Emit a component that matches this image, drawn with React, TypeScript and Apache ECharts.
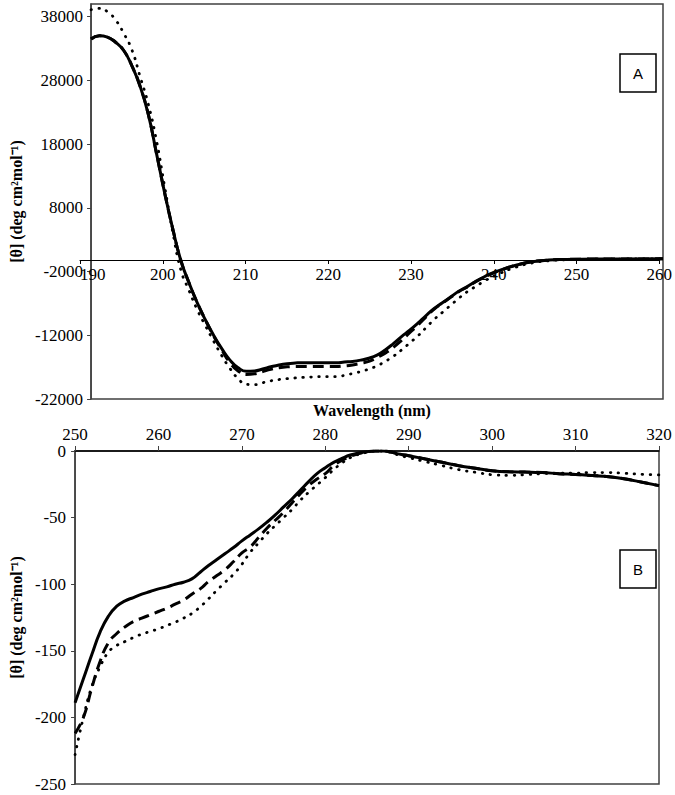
import React, { useEffect, useRef } from "react";
import * as echarts from "echarts";

// ---------- Panel A (far-UV CD) ----------
const wlA = [190, 191, 192, 193, 194, 195, 196, 197, 198, 199, 200, 201, 202, 203, 204, 205, 206, 207, 208, 209, 210, 211, 212, 213, 214, 215, 216, 217, 218, 219, 220, 221, 222, 223, 224, 225, 226, 227, 228, 229, 230, 231, 232, 233, 234, 235, 236, 237, 238, 239, 240, 242, 244, 246, 248, 250, 255, 260];
const solidA = [34500, 35000, 34800, 34000, 32700, 30300, 27100, 22700, 16600, 10400, 4700, -300, -3800, -6900, -9600, -12000, -14100, -15900, -17100, -17650, -17600, -17300, -16950, -16650, -16450, -16350, -16300, -16300, -16300, -16300, -16300, -16200, -16100, -15900, -15600, -15100, -14300, -13300, -12200, -11200, -10100, -8900, -7800, -6900, -6000, -5100, -4400, -3600, -2900, -2300, -1800, -1000, -450, -200, -100, -50, -20, 0];
const dashedA = [34500, 35000, 34800, 34000, 32700, 30300, 27100, 22700, 16600, 10400, 4700, -300, -3800, -6900, -9600, -12100, -14300, -16300, -17600, -18150, -18050, -17700, -17350, -17100, -16950, -16900, -16900, -16900, -16900, -16900, -16900, -16800, -16650, -16400, -16100, -15500, -14800, -13900, -12800, -11600, -10400, -9100, -7900, -6950, -6050, -5150, -4450, -3650, -2950, -2350, -1850, -1000, -450, -200, -100, -50, -20, 0];
const dottedA = [39100, 39300, 38800, 37500, 35400, 32800, 28600, 24300, 18600, 11400, 4200, -1800, -5000, -8000, -10500, -12900, -15200, -17200, -18800, -19700, -19750, -19450, -19150, -18950, -18800, -18700, -18600, -18550, -18500, -18500, -18500, -18300, -18000, -17700, -17300, -16800, -16100, -15300, -14300, -13200, -12100, -10800, -9500, -8400, -7300, -6200, -5200, -4400, -3600, -2900, -2300, -1300, -650, -300, -150, -80, -30, 0];

// ---------- Panel B (near-UV CD) ----------
const wlB = [250, 251, 252, 253, 254, 255, 256, 257, 258, 259, 260, 261, 262, 263, 264, 265, 266, 267, 268, 269, 270, 271, 272, 273, 274, 275, 276, 277, 278, 279, 280, 281, 282, 283, 284, 285, 286, 287, 288, 289, 290, 292, 294, 296, 298, 300, 302, 304, 306, 308, 310, 312, 314, 316, 318, 320];
const solidB = [-189, -171, -153, -136, -124, -116.5, -112.5, -110, -107.5, -105.5, -103.5, -102, -100, -98.5, -96, -91, -86, -81.5, -77, -72.5, -67.5, -63, -58.5, -53.5, -48, -42, -36, -29.5, -23, -17, -12.5, -8.5, -5.5, -3, -1.5, -0.5, 0, 0, -1, -2.5, -3.5, -6, -8.5, -11, -13, -14.8, -15.6, -15.8, -16.2, -17, -17.6, -18.4, -19.3, -21, -23.5, -26];
const dashedB = [-212, -200, -178, -158, -144, -137, -132, -128, -125.5, -123, -120.5, -118, -115, -112, -107.5, -103.5, -98, -93.5, -89, -83, -76.5, -72, -65, -58, -52, -46, -39, -32, -26, -21, -17, -11, -7, -4, -2, -0.5, 0, 0, -1, -2.5, -3.5, -6, -8.5, -11, -13, -14.8, -15.6, -15.8, -16.2, -17, -17.6, -18.4, -19.3, -21, -23.5, -26];
const dottedB = [-228, -200, -177, -162, -151, -146, -143, -140, -137.5, -135.5, -133.5, -131, -128.5, -125.5, -122, -117, -111, -104.5, -98.5, -92.5, -85, -76, -69, -62, -56, -50, -44, -37, -31, -25.5, -20, -14, -9, -5, -2.5, -1, 0, 0, -1.5, -3.5, -5, -8, -11, -14, -16, -17.8, -18.3, -17.8, -17, -16.7, -16.6, -16.2, -16.2, -16.8, -17.5, -18];

const serif = "Liberation Serif";
const yTitle = "[θ] (deg cm²mol⁻¹)";

function pairs(xs: number[], ys: number[]) {
  return xs.map((x, i) => [x, ys[i]]);
}

export default function App() {
  const ref = useRef<HTMLDivElement>(null);
  useEffect(() => {
    document.body.style.margin = "0";
    if (!ref.current) return;
    const chart = echarts.init(ref.current, null, { renderer: "svg" });
    const plain = (v: number) => String(v);
    const axisLabel = { color: "#000", fontFamily: serif, fontSize: 17, formatter: plain };
    const nameStyle = { color: "#000", fontFamily: serif, fontSize: 16, fontWeight: "bold" as const };
    const solidStyle = { color: "#000", width: 3, type: "solid" as const };
    const dashedStyle = { color: "#000", width: 3, type: [11, 6] as any };
    const dottedStyle = { color: "#000", width: 2.8, type: [0.5, 7.5] as any, cap: "round" as const };
    const mk = (name: string, xi: number, data: any, ls: any) => ({
      type: "line",
      name,
      xAxisIndex: xi,
      yAxisIndex: xi,
      data,
      showSymbol: false,
      smooth: 0.5,
      lineStyle: ls,
      z: 3,
    });
    chart.setOption({
      animation: false,
      backgroundColor: "#fff",
      grid: [
        { left: 80, right: 12, top: 4, height: 395, show: true, borderColor: "#404040", borderWidth: 1.5, backgroundColor: "transparent" },
        { left: 74, right: 16, top: 451, height: 333, show: true, borderColor: "#404040", borderWidth: 1.5, backgroundColor: "transparent" },
        // helper grid whose bottom edge is the zero line of panel A (carries A's wavelength axis)
        { left: 80, right: 12, top: 4, height: 256, show: false },
      ],
      xAxis: [
        {
          type: "value", gridIndex: 0, min: 190, max: 260, interval: 10,
          axisLine: { show: false }, axisTick: { show: false }, axisLabel: { show: false },
          splitLine: { show: false },
        },
        {
          type: "value", gridIndex: 1, min: 250, max: 320, interval: 10, position: "top",
          axisLine: { onZero: false, lineStyle: { color: "#000", width: 1.5 } },
          axisTick: { show: true, length: 5, lineStyle: { color: "#404040" } },
          axisLabel: { ...axisLabel, margin: 8 },
          splitLine: { show: false },
        },
        {
          type: "value", gridIndex: 2, min: 190, max: 260, interval: 10, position: "bottom",
          axisLine: { onZero: false, lineStyle: { color: "#000", width: 1 } },
          axisTick: { show: true, length: 4, lineStyle: { color: "#000" } },
          axisLabel: { ...axisLabel, margin: 6, alignMinLabel: "left" },
          splitLine: { show: false },
        },
      ],
      yAxis: [
        {
          type: "value", gridIndex: 0, min: -22000, max: 40000, interval: 10000,
          name: yTitle, nameLocation: "middle", nameGap: 55, nameTextStyle: nameStyle,
          axisLine: { show: true, lineStyle: { color: "#404040", width: 1.5 } },
          axisTick: { show: true, length: 4, lineStyle: { color: "#404040" } },
          axisLabel: { ...axisLabel, margin: 8, showMaxLabel: false },
          splitLine: { show: false },
        },
        {
          type: "value", gridIndex: 1, min: -250, max: 0, interval: 50,
          name: yTitle, nameLocation: "middle", nameGap: 34, nameTextStyle: nameStyle,
          axisLine: { show: true, lineStyle: { color: "#404040", width: 1.5 } },
          axisTick: { show: true, length: 4, lineStyle: { color: "#404040" } },
          axisLabel: { ...axisLabel, margin: 9 },
          splitLine: { show: false },
        },
        {
          type: "value", gridIndex: 2, min: 0, max: 1, show: false,
        },
      ],
      series: [
        mk("A dotted", 0, pairs(wlA, dottedA), dottedStyle),
        mk("A dashed", 0, pairs(wlA, dashedA), dashedStyle),
        mk("A solid", 0, pairs(wlA, solidA), solidStyle),
        mk("B dotted", 1, pairs(wlB, dottedB), dottedStyle),
        mk("B dashed", 1, pairs(wlB, dashedB), dashedStyle),
        mk("B solid", 1, pairs(wlB, solidB), solidStyle),
      ],
      graphic: [
        {
          type: "text", x: 372, y: 410,
          style: { text: "Wavelength (nm)", fill: "#000", font: `bold 16px "${serif}"`, align: "center", verticalAlign: "middle" },
        },
        { type: "rect", shape: { x: 620, y: 54, width: 36, height: 38 }, style: { fill: "#fff", stroke: "#000", lineWidth: 1.5 }, z: 10 },
        { type: "text", x: 638, y: 73, style: { text: "A", fill: "#000", font: "15px 'Liberation Sans', Arial, sans-serif", align: "center", verticalAlign: "middle" }, z: 11 },
        { type: "rect", shape: { x: 620, y: 550, width: 36, height: 38 }, style: { fill: "#fff", stroke: "#000", lineWidth: 1.5 }, z: 10 },
        { type: "text", x: 638, y: 569, style: { text: "B", fill: "#000", font: "15px 'Liberation Sans', Arial, sans-serif", align: "center", verticalAlign: "middle" }, z: 11 },
      ],
    });
    return () => chart.dispose();
  }, []);
  return <div ref={ref} style={{ width: 675, height: 795 }} />;
}
